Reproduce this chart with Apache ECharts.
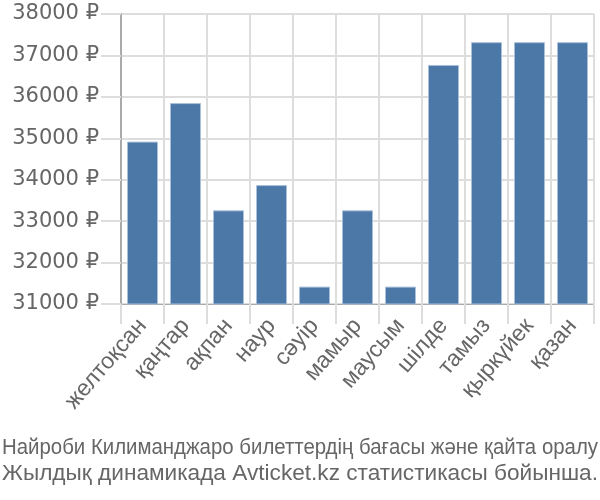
<!DOCTYPE html>
<html><head><meta charset="utf-8">
<script src="https://cdn.jsdelivr.net/npm/echarts@6/dist/echarts.min.js"></script>
<style>html,body{margin:0;padding:0;background:#fff}#c{width:600px;height:500px}</style>
</head><body><div id="c"></div>
<script>
const categories = ['желтоқсан','қаңтар','ақпан','наур','сәуір','мамыр','маусым','шілде','тамыз','қыркүйек','қазан'];
const prices = [34920, 35850, 33260, 33870, 31420, 33260, 31420, 36770, 37320, 37320, 37320];
const titleLines = ['Найроби Килиманджаро билеттердің бағасы және қайта оралу','Жылдық динамикада Avticket.kz статистикасы бойынша.'];

const titleFont = '22px "Liberation Sans", sans-serif';
const ctx = document.createElement('canvas').getContext('2d');
ctx.font = titleFont;
const targetW = 596;
const titleY = [448, 474];
const titleGraphics = titleLines.map((t, i) => {
  const w = ctx.measureText(t).width;
  return {type:'text', x:300, y:titleY[i], scaleX: targetW / w, silent:true,
    style:{text:t, font:titleFont, fill:'#666', textAlign:'center', textVerticalAlign:'middle'}};
});

const chart = echarts.init(document.getElementById('c'), null, {renderer:'canvas'});
chart.setOption({
  animation:false,
  graphic: titleGraphics,
  grid:{left:121, right:6, top:14, bottom:196},
  xAxis:{type:'category', data:categories,
    axisLine:{lineStyle:{color:'#aaa', width:1}},
    axisTick:{show:true, length:20, lineStyle:{color:'#ddd', width:2}},
    splitLine:{show:true, lineStyle:{color:'#ddd', width:2}},
    axisLabel:{rotate:49, fontSize:23, color:'#666', fontFamily:'Liberation Sans, sans-serif', margin:18, interval:0}},
  yAxis:{type:'value', min:31000, max:38000, interval:1000,
    axisLine:{show:true, lineStyle:{color:'#aaa', width:2}},
    axisTick:{show:true, length:20, lineStyle:{color:'#ddd', width:2}},
    splitLine:{lineStyle:{color:'#ddd', width:2}},
    axisLabel:{formatter:v=>v+' ₽', fontSize:21, color:'#666', fontFamily:'DejaVu Sans, sans-serif', margin:22}},
  series:[{type:'bar', data:prices, barWidth:31,
    itemStyle:{color:'#4c78a8', borderColor:'#a9c0db', borderWidth:1}}]
});
</script></body></html>
